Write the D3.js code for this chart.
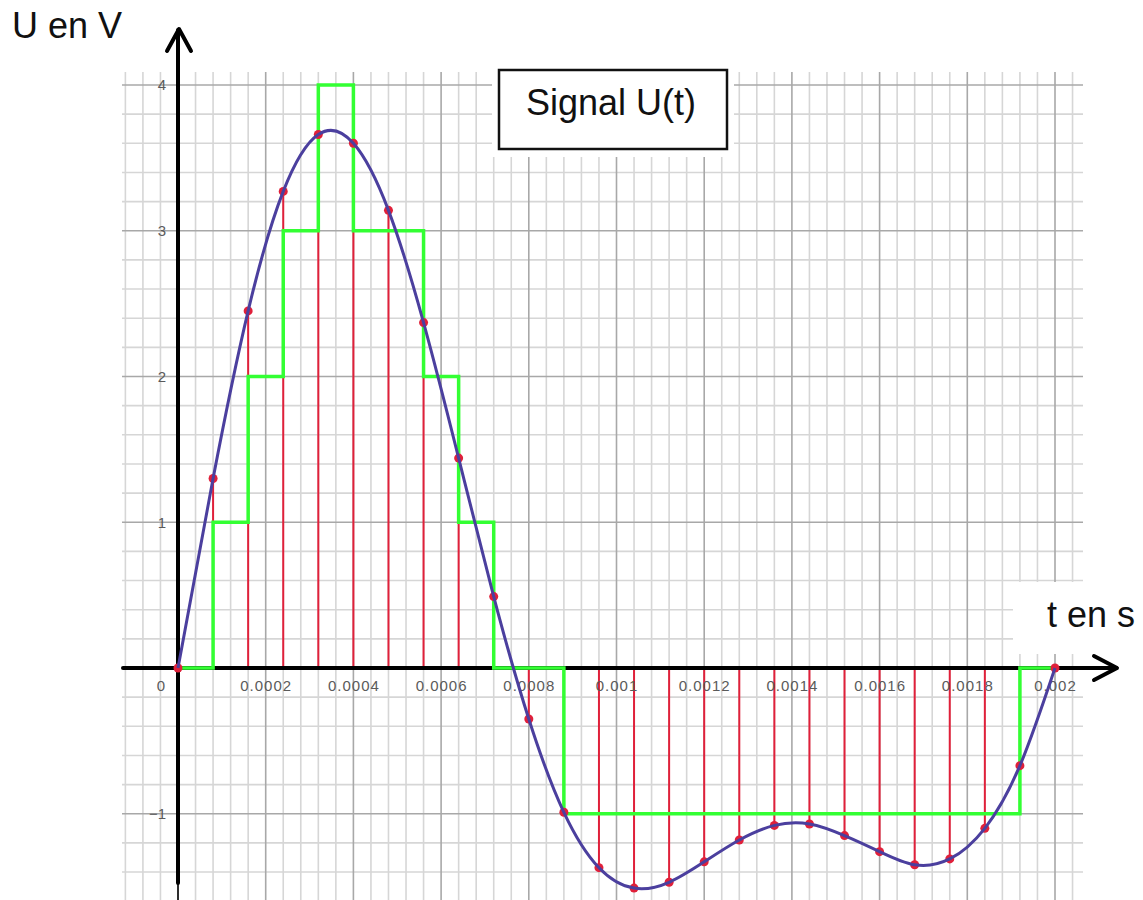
<!DOCTYPE html>
<html>
<head>
<meta charset="utf-8">
<script src="https://cdn.jsdelivr.net/npm/d3@7"></script>
<style>
  html, body { margin: 0; padding: 0; background: #fff; }
  svg { display: block; font-family: "Liberation Sans", Arial, sans-serif; }
</style>
</head>
<body>
<svg id="chart" width="1143" height="900"></svg>
<script>
// ---- data ----
const sampleTimes = [0, 0.00008, 0.00016, 0.00024, 0.00032, 0.0004, 0.00048, 0.00056, 0.00064, 0.00072,
  0.0008, 0.00088, 0.00096, 0.00104, 0.00112, 0.0012, 0.00128, 0.00136, 0.00144, 0.00152,
  0.0016, 0.00168, 0.00176, 0.00184, 0.00192, 0.002];
const sampleValues = [0, 1.30, 2.45, 3.27, 3.66, 3.60, 3.14, 2.37, 1.44, 0.49,
  -0.35, -0.99, -1.37, -1.51, -1.47, -1.33, -1.18, -1.08, -1.07, -1.15,
  -1.26, -1.35, -1.31, -1.10, -0.67, 0];
const quantizedValues = [0, 1, 2, 3, 4, 3, 3, 2, 1, 0,
  0, -1, -1, -1, -1, -1, -1, -1, -1, -1,
  -1, -1, -1, -1, 0, 0];
const xTickValues = [0, 0.0002, 0.0004, 0.0006, 0.0008, 0.001, 0.0012, 0.0014, 0.0016, 0.0018, 0.002];
const xTickLabels = ["0", "0.0002", "0.0004", "0.0006", "0.0008", "0.001", "0.0012", "0.0014", "0.0016", "0.0018", "0.002"];
const yTickValues = [-1, 1, 2, 3, 4];
const yTickLabels = ["\u22121", "1", "2", "3", "4"];
const titleText = "Signal U(t)";
const yAxisTitle = "U en V";
const xAxisTitle = "t en s";

// ---- scales ----
const x = d3.scaleLinear().domain([0, 0.002]).range([178, 1055]);
const y = d3.scaleLinear().domain([0, 4]).range([668, 85]);

const svg = d3.select("#chart");

// ---- grid ----
const gridLeft = 122, gridRight = 1083, gridTop = 72, gridBottom = 900;
const vGrid = d3.range(-3, 52).map(k => ({ t: k * 0.00004, major: k % 5 === 0 }));
const hGrid = d3.range(-8, 21).map(j => ({ v: j * 0.2, major: j % 5 === 0 }));
const grid = svg.append("g");
grid.selectAll("line.v").data(vGrid.filter(d => !d.major)).join("line")
  .attr("x1", d => x(d.t)).attr("x2", d => x(d.t))
  .attr("y1", gridTop).attr("y2", gridBottom)
  .attr("stroke", "#d6d6d6").attr("stroke-width", 1.6);
grid.selectAll("line.h").data(hGrid.filter(d => !d.major)).join("line")
  .attr("x1", gridLeft).attr("x2", gridRight)
  .attr("y1", d => y(d.v)).attr("y2", d => y(d.v))
  .attr("stroke", "#d6d6d6").attr("stroke-width", 1.6);
grid.append("g").selectAll("line").data(vGrid.filter(d => d.major)).join("line")
  .attr("x1", d => x(d.t)).attr("x2", d => x(d.t))
  .attr("y1", gridTop).attr("y2", gridBottom)
  .attr("stroke", "#a8a8a8").attr("stroke-width", 1.6);
grid.append("g").selectAll("line").data(hGrid.filter(d => d.major)).join("line")
  .attr("x1", gridLeft).attr("x2", gridRight)
  .attr("y1", d => y(d.v)).attr("y2", d => y(d.v))
  .attr("stroke", "#a8a8a8").attr("stroke-width", 1.6);

// white patches behind title and x-axis label
svg.append("rect").attr("x", 492).attr("y", 58).attr("width", 242).attr("height", 99).attr("fill", "#fff");
svg.append("rect").attr("x", 1013).attr("y", 582).attr("width", 130).attr("height", 72).attr("fill", "#fff");

// ---- stems ----
const samples = sampleTimes.map((t, i) => ({ t, v: sampleValues[i], q: quantizedValues[i] }));
svg.append("g").selectAll("line").data(samples).join("line")
  .attr("x1", d => x(d.t)).attr("x2", d => x(d.t))
  .attr("y1", y(0)).attr("y2", d => y(d.v))
  .attr("stroke", "#e0203a").attr("stroke-width", 2);

// ---- axes ----
const axes = svg.append("g").attr("stroke", "#000").attr("fill", "none").attr("stroke-linecap", "round").attr("stroke-linejoin", "round");
axes.append("line").attr("x1", 123).attr("x2", 1116).attr("y1", y(0)).attr("y2", y(0)).attr("stroke-width", 4);
axes.append("polyline").attr("points", "1094,656 1117,668 1094,680").attr("stroke-width", 4);
axes.append("line").attr("x1", x(0)).attr("x2", x(0)).attr("y1", 883).attr("y2", 30).attr("stroke-width", 4);
axes.append("line").attr("x1", x(0)).attr("x2", x(0)).attr("y1", 883).attr("y2", 900).attr("stroke-width", 1.5);
axes.append("polyline").attr("points", "167,51 179,29 191,51").attr("stroke-width", 4);

// tick labels via d3 axes
const xAxis = d3.axisBottom(x).tickValues(xTickValues)
  .tickFormat((d, i) => xTickLabels[i]).tickSize(0).tickPadding(12);
const gx = svg.append("g").attr("transform", `translate(0,${y(0)})`).call(xAxis);
gx.select(".domain").remove();
gx.selectAll("text").attr("fill", "#5a5a5a").attr("font-size", 15)
  .attr("font-family", "Liberation Sans, Arial, sans-serif")
  .style("letter-spacing", "1px");
gx.selectAll(".tick").filter(d => d === 0).select("text").attr("dx", -17);

const yAxis = d3.axisLeft(y).tickValues(yTickValues)
  .tickFormat((d, i) => yTickLabels[i]).tickSize(0).tickPadding(12);
const gy = svg.append("g").attr("transform", `translate(${x(0)},0)`).call(yAxis);
gy.select(".domain").remove();
gy.selectAll("text").attr("fill", "#5a5a5a").attr("font-size", 15)
  .attr("font-family", "Liberation Sans, Arial, sans-serif");

// ---- quantized (green) ----
svg.append("path").datum(samples)
  .attr("d", d3.line().x(d => x(d.t)).y(d => y(d.q)).curve(d3.curveStepAfter))
  .attr("fill", "none").attr("stroke", "#33ff33").attr("stroke-width", 3.5)
  .attr("stroke-linejoin", "miter");

// ---- sample dots ----
svg.append("g").selectAll("circle").data(samples).join("circle")
  .attr("cx", d => x(d.t)).attr("cy", d => y(d.v)).attr("r", 4.5)
  .attr("fill", "#e0203a");

// ---- signal curve ----
svg.append("path").datum(samples)
  .attr("d", d3.line().x(d => x(d.t)).y(d => y(d.v)).curve(d3.curveNatural))
  .attr("fill", "none").attr("stroke", "#4b3f9e").attr("stroke-width", 3);

// ---- title box ----
svg.append("rect").attr("x", 499).attr("y", 70).attr("width", 228).attr("height", 79)
  .attr("fill", "#fff").attr("stroke", "#111").attr("stroke-width", 2.5);
svg.append("text").attr("x", 611).attr("y", 115).attr("text-anchor", "middle")
  .attr("font-size", 36).attr("fill", "#111").text(titleText);

// ---- axis titles ----
svg.append("text").attr("x", 12).attr("y", 38).attr("font-size", 36).attr("fill", "#111").text(yAxisTitle);
svg.append("text").attr("x", 1047).attr("y", 627).attr("font-size", 36).attr("fill", "#111").text(xAxisTitle);
</script>
</body>
</html>
